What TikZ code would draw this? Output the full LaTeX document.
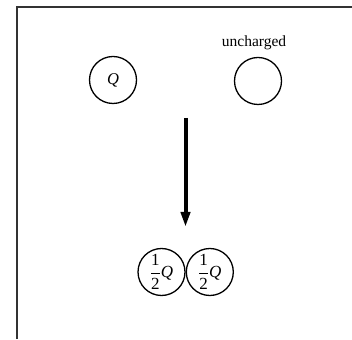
\documentclass[tikz,border=0pt]{standalone}
\usepackage{fontspec}
\setmainfont{Liberation Serif}
\usetikzlibrary{arrows.meta,positioning}
\tikzset{ball/.style={draw,circle,line width=1.3pt,minimum size=47pt,inner sep=0pt}}
\newcommand{\halfq}{\fontsize{17}{20}\selectfont$\displaystyle\frac{\textrm{1}}{\textrm{2}}$\textit{Q}}

\begin{document}
\begin{tikzpicture}[x=1pt,y=1pt,font=\fontsize{15.5}{18}\selectfont,node distance=0pt]
  \useasboundingbox (0,0) rectangle (352,339);
  \draw[line width=2pt,color=black!80] (16.5,0) -- (16.5,331.5) -- (352,331.5);
  % before
  \node[ball] (q) at (113,259) {\fontsize{16.5}{18}\selectfont\textit{Q}};
  \node[ball] (u) at (258,258) {};
  \node[above=3pt of u,xshift=-4pt] (ulabel) {uncharged};
  % contact
  \coordinate (top) at (185.5,221);
  \coordinate (bot) at (185.5,112);
  \draw[line width=4pt,-{Triangle[length=15pt,width=9pt]}] (top) -- (bot);
  % after
  \node[ball] (h1) at (161.5,67) {\halfq};
  \node[ball,right=of h1] (h2) {\halfq};
\end{tikzpicture}
\end{document}
